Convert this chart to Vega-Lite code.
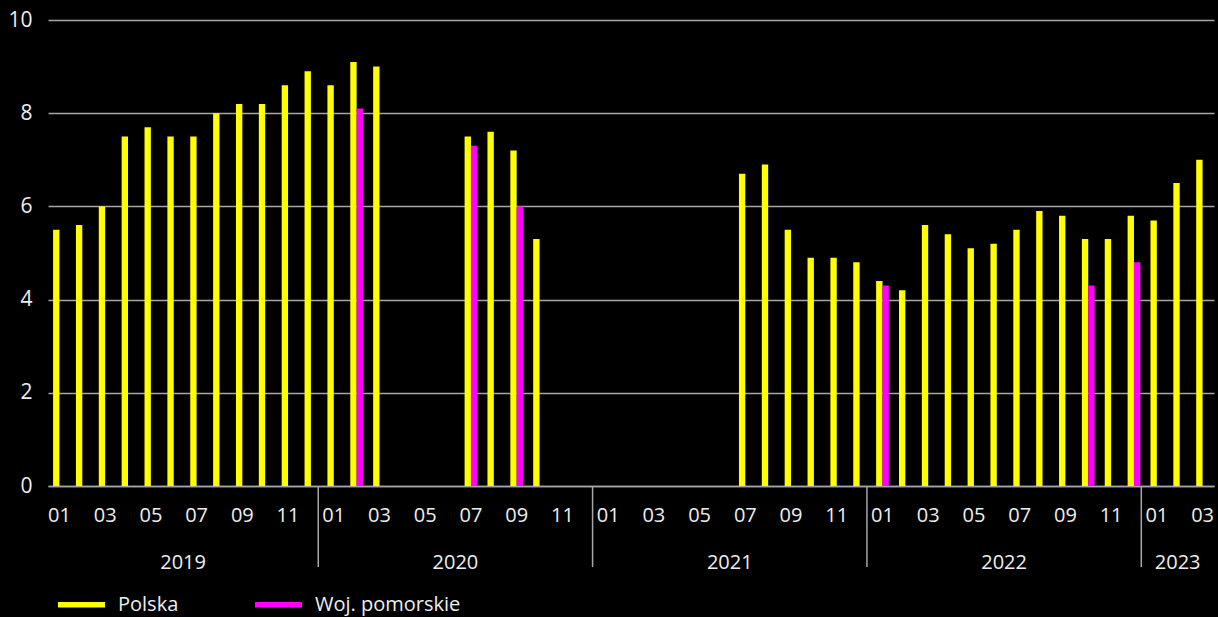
{
  "$schema": "https://vega.github.io/schema/vega-lite/v6.json",
  "autosize": {"type": "none"},
  "width": 1166,
  "height": 466,
  "padding": {"left": 48, "top": 20, "right": 4, "bottom": 131},
  "background": "#000000",
  "config": {
    "view": {"stroke": null},
    "font": "Open Sans",
    "axis": {"labelColor": "#eeeeee", "labelFont": "Open Sans"},
    "legend": {"labelColor": "#eeeeee", "labelFont": "Open Sans"}
  },
  "datasets": {
    "bars": [
      {"m": "2019-01", "s": "Polska", "v": 5.5},
      {"m": "2019-02", "s": "Polska", "v": 5.6},
      {"m": "2019-03", "s": "Polska", "v": 6.0},
      {"m": "2019-04", "s": "Polska", "v": 7.5},
      {"m": "2019-05", "s": "Polska", "v": 7.7},
      {"m": "2019-06", "s": "Polska", "v": 7.5},
      {"m": "2019-07", "s": "Polska", "v": 7.5},
      {"m": "2019-08", "s": "Polska", "v": 8.0},
      {"m": "2019-09", "s": "Polska", "v": 8.2},
      {"m": "2019-10", "s": "Polska", "v": 8.2},
      {"m": "2019-11", "s": "Polska", "v": 8.6},
      {"m": "2019-12", "s": "Polska", "v": 8.9},
      {"m": "2020-01", "s": "Polska", "v": 8.6},
      {"m": "2020-02", "s": "Polska", "v": 9.1},
      {"m": "2020-02", "s": "Woj. pomorskie", "v": 8.1},
      {"m": "2020-03", "s": "Polska", "v": 9.0},
      {"m": "2020-07", "s": "Polska", "v": 7.5},
      {"m": "2020-07", "s": "Woj. pomorskie", "v": 7.3},
      {"m": "2020-08", "s": "Polska", "v": 7.6},
      {"m": "2020-09", "s": "Polska", "v": 7.2},
      {"m": "2020-09", "s": "Woj. pomorskie", "v": 6.0},
      {"m": "2020-10", "s": "Polska", "v": 5.3},
      {"m": "2021-07", "s": "Polska", "v": 6.7},
      {"m": "2021-08", "s": "Polska", "v": 6.9},
      {"m": "2021-09", "s": "Polska", "v": 5.5},
      {"m": "2021-10", "s": "Polska", "v": 4.9},
      {"m": "2021-11", "s": "Polska", "v": 4.9},
      {"m": "2021-12", "s": "Polska", "v": 4.8},
      {"m": "2022-01", "s": "Polska", "v": 4.4},
      {"m": "2022-01", "s": "Woj. pomorskie", "v": 4.3},
      {"m": "2022-02", "s": "Polska", "v": 4.2},
      {"m": "2022-03", "s": "Polska", "v": 5.6},
      {"m": "2022-04", "s": "Polska", "v": 5.4},
      {"m": "2022-05", "s": "Polska", "v": 5.1},
      {"m": "2022-06", "s": "Polska", "v": 5.2},
      {"m": "2022-07", "s": "Polska", "v": 5.5},
      {"m": "2022-08", "s": "Polska", "v": 5.9},
      {"m": "2022-09", "s": "Polska", "v": 5.8},
      {"m": "2022-10", "s": "Polska", "v": 5.3},
      {"m": "2022-10", "s": "Woj. pomorskie", "v": 4.3},
      {"m": "2022-11", "s": "Polska", "v": 5.3},
      {"m": "2022-12", "s": "Polska", "v": 5.8},
      {"m": "2022-12", "s": "Woj. pomorskie", "v": 4.8},
      {"m": "2023-01", "s": "Polska", "v": 5.7},
      {"m": "2023-02", "s": "Polska", "v": 6.5},
      {"m": "2023-03", "s": "Polska", "v": 7.0}
    ],
    "separators": [
      {"pos": 11.82},
      {"pos": 23.82},
      {"pos": 35.82},
      {"pos": 47.82}
    ],
    "years": [
      {"year": "2019", "pos": 5.91},
      {"year": "2020", "pos": 17.82},
      {"year": "2021", "pos": 29.82},
      {"year": "2022", "pos": 41.82},
      {"year": "2023", "pos": 49.41}
    ]
  },
  "layer": [
    {
      "data": {"name": "bars"},
      "mark": {"type": "bar"},
      "encoding": {
        "x": {
          "field": "m",
          "type": "ordinal",
          "title": null,
          "scale": {
            "domain": ["2019-01","2019-02","2019-03","2019-04","2019-05","2019-06","2019-07","2019-08","2019-09","2019-10","2019-11","2019-12",
                       "2020-01","2020-02","2020-03","2020-04","2020-05","2020-06","2020-07","2020-08","2020-09","2020-10","2020-11","2020-12",
                       "2021-01","2021-02","2021-03","2021-04","2021-05","2021-06","2021-07","2021-08","2021-09","2021-10","2021-11","2021-12",
                       "2022-01","2022-02","2022-03","2022-04","2022-05","2022-06","2022-07","2022-08","2022-09","2022-10","2022-11","2022-12",
                       "2023-01","2023-02","2023-03"],
            "paddingInner": 0.444,
            "paddingOuter": 0.222
          },
          "axis": {
            "labelExpr": "parseInt(substring(datum.value,5,7)) % 2 == 1 ? substring(datum.value,5,7) : ''",
            "labelAngle": 0,
            "labelFontSize": 20,
            "labelPadding": 19,
            "labelOverlap": false,
            "labelFlush": false,
            "ticks": false,
            "domainColor": "#a6a6a6",
            "domainWidth": 1.5,
            "grid": false
          }
        },
        "xOffset": {
          "field": "s",
          "type": "nominal",
          "scale": {"domain": ["Polska", "Woj. pomorskie"], "paddingInner": 0, "paddingOuter": 0}
        },
        "y": {
          "field": "v",
          "type": "quantitative",
          "title": null,
          "scale": {"domain": [0, 10], "nice": false},
          "axis": {
            "values": [0, 2, 4, 6, 8, 10],
            "labelFontSize": 21,
            "labelPadding": 16,
            "ticks": false,
            "domain": false,
            "gridColor": "#a6a6a6",
            "gridWidth": 1.5
          }
        },
        "color": {
          "field": "s",
          "type": "nominal",
          "scale": {"domain": ["Polska", "Woj. pomorskie"], "range": ["#ffff00", "#ff00ff"]},
          "legend": {
            "title": null,
            "orient": "none",
            "direction": "horizontal",
            "legendX": 10,
            "legendY": 561,
            "symbolType": "M-1,-0.113H1V0.113H-1Z",
            "symbolSize": 2209,
            "symbolStrokeWidth": 0,
            "labelFontSize": 20,
            "labelOffset": 13,
            "columnPadding": 76
          }
        }
      }
    },
    {
      "layer": [
        {
          "data": {"name": "separators"},
          "mark": {"type": "rule", "color": "#a6a6a6", "strokeWidth": 1.5},
          "encoding": {
            "x": {"field": "pos", "type": "quantitative", "scale": {"domain": [0, 51], "nice": false, "zero": false}, "axis": null},
            "y": {"datum": 0},
            "y2": {"datum": -1.74}
          }
        },
        {
          "data": {"name": "years"},
          "mark": {"type": "text", "color": "#eeeeee", "fontSize": 20, "baseline": "middle", "align": "center"},
          "encoding": {
            "x": {"field": "pos", "type": "quantitative", "scale": {"domain": [0, 51], "nice": false, "zero": false}, "axis": null},
            "y": {"datum": -1.65},
            "text": {"field": "year"}
          }
        }
      ]
    }
  ],
  "resolve": {"scale": {"x": "independent"}}
}
